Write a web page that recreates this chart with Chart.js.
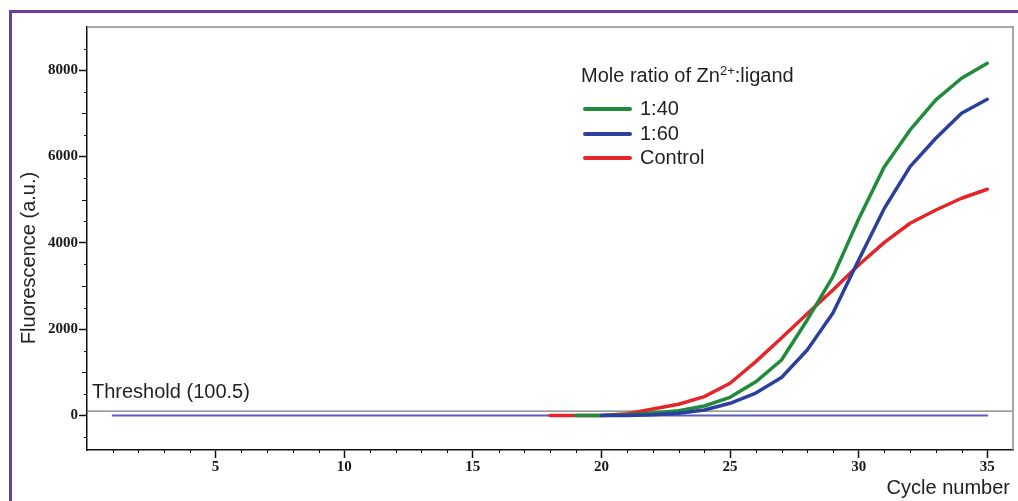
<!DOCTYPE html>
<html>
<head>
<meta charset="utf-8">
<script src="https://cdn.jsdelivr.net/npm/chart.js@4.4.1/dist/chart.umd.min.js"></script>
<style>
  html, body { margin: 0; padding: 0; background: #ffffff; }
  #wrap { position: relative; width: 1018px; height: 501px; overflow: hidden; background: #fff; }
  #c { position: absolute; left: 0; top: 0; }
  .txt { position: absolute; font-family: "Liberation Sans", Arial, sans-serif; font-size: 20px; line-height: 20px; color: #231f20; white-space: nowrap; }
  .frameTop { position: absolute; left: 9px; top: 10px; width: 1009px; height: 3px; background: #6b3fa0; }
  .frameLeft { position: absolute; left: 9px; top: 10px; width: 3px; height: 491px; background: #6b3fa0; }
  .lg { position: absolute; height: 4px; border-radius: 2px; }
  sup { font-size: 13px; line-height: 0; position: relative; top: 0px; vertical-align: 7px; }
</style>
</head>
<body>
<div id="wrap">
  <canvas id="c" width="1018" height="501"></canvas>
  <div class="frameTop"></div>
  <div class="frameLeft"></div>
  <div class="txt" id="ytitle" style="left:28px; top:258px; transform: translate(-50%,-50%) rotate(-90deg);">Fluorescence (a.u.)</div>
  <div class="txt" style="right:8px; top:477px;">Cycle number</div>
  <div class="txt" style="left:92px; top:381px;">Threshold (100.5)</div>
  <div class="txt" style="left:581px; top:65px;">Mole ratio of Zn<sup>2+</sup>:ligand</div>
  <div id="legendItems"></div>
</div>
<script>
// ---- data ----
const cycles = [1,2,3,4,5,6,7,8,9,10,11,12,13,14,15,16,17,18,19,20,21,22,23,24,25,26,27,28,29,30,31,32,33,34,35];

const ratio40 = [null,null,null,null,null,null,null,null,null,null,null,null,null,null,null,null,null,null,
  0,0,15,60,111,220,421,780,1286,2213,3216,4550,5765,6615,7310,7813,8160];

const ratio60 = [null,null,null,null,null,null,null,null,null,null,null,null,null,null,null,null,null,null,null,
  0,0,15,50,127,282,520,880,1518,2375,3603,4800,5765,6423,7002,7326];

const control = [null,null,null,null,null,null,null,null,null,null,null,null,null,null,null,null,null,
  0,0,0,40,150,259,436,746,1247,1796,2359,2908,3487,4010,4453,4761,5033,5241];

const baseline = [0,0,0,0,0,0,0,0,0,0,0,0,0,0,0,0,0,0,0,0,0,0,0,0,0,0,0,0,0,0,0,0,0,0,0];

const thresholdValue = 100.5;

const xTickValues = [5,10,15,20,25,30,35];
const yTickValues = [0,2000,4000,6000,8000];

const seriesNames = ['1:40', '1:60', 'Control'];
const seriesColors = ['#1f8b3b', '#2b3f9e', '#e4262a'];

const X_MIN = 0, X_MAX = 36, Y_MIN = -800, Y_MAX = 9000;

// ---- build datasets ----
const pts = arr => cycles.map((c, i) => ({ x: c, y: arr[i] }));

const datasets = [
  { label: seriesNames[1], data: pts(ratio60), borderColor: seriesColors[1], borderWidth: 3.5 },
  { label: seriesNames[0], data: pts(ratio40), borderColor: seriesColors[0], borderWidth: 3.5 },
  { label: seriesNames[2], data: pts(control), borderColor: seriesColors[2], borderWidth: 3.5 },
  { label: 'Baseline', data: pts(baseline), borderColor: '#5a5cc0', borderWidth: 2 },
  { label: 'Threshold', data: [{ x: X_MIN, y: thresholdValue }, { x: X_MAX, y: thresholdValue }], borderColor: '#7a7a7a', borderWidth: 1.2 }
];

const axisFrame = {
  id: 'axisFrame',
  afterDraw(chart) {
    const { ctx, chartArea: a, scales: { x, y } } = chart;
    ctx.save();
    ctx.strokeStyle = '#8c8c8c';
    ctx.lineWidth = 1.5;
    ctx.beginPath();
    ctx.moveTo(a.left, a.top);
    ctx.lineTo(a.right, a.top);
    ctx.lineTo(a.right, a.bottom);
    ctx.stroke();
    ctx.strokeStyle = '#111';
    ctx.lineWidth = 1;
    ctx.beginPath();
    for (let v = Math.ceil(X_MIN) + 1; v < X_MAX; v++) {
      if (xTickValues.includes(v)) continue;
      const px = Math.round(x.getPixelForValue(v)) + 0.5;
      ctx.moveTo(px, a.bottom);
      ctx.lineTo(px, a.bottom + 3);
    }
    for (let v = -500; v < Y_MAX; v += 500) {
      if (yTickValues.includes(v)) continue;
      const len = (v % 1000 === 0) ? 5 : 3;
      const py = Math.round(y.getPixelForValue(v)) + 0.5;
      ctx.moveTo(a.left - len, py);
      ctx.lineTo(a.left, py);
    }
    ctx.stroke();
    ctx.restore();
  }
};

const tickFont = { family: '"Liberation Serif", "Times New Roman", serif', weight: 'bold', size: 15 };

new Chart(document.getElementById('c'), {
  type: 'line',
  data: { datasets },
  options: {
    responsive: false,
    animation: false,
    layout: { padding: { left: 0, right: 5, top: 27, bottom: 0 } },
    plugins: { legend: { display: false }, tooltip: { enabled: false } },
    elements: {
      point: { radius: 0 },
      line: { tension: 0, borderCapStyle: 'round', borderJoinStyle: 'round', fill: false }
    },
    scales: {
      x: {
        type: 'linear', min: X_MIN, max: X_MAX,
        afterBuildTicks: s => { s.ticks = xTickValues.map(v => ({ value: v })); },
        afterFit: s => { s.height = 51; },
        ticks: { font: tickFont, color: '#1a1a1a', padding: 0, autoSkip: false, maxRotation: 0, callback: v => String(v) },
        grid: { drawOnChartArea: false, drawTicks: true, tickLength: 8, tickColor: '#111', tickWidth: 1.5 },
        border: { color: '#111', width: 1.5 }
      },
      y: {
        type: 'linear', min: Y_MIN, max: Y_MAX,
        afterBuildTicks: s => { s.ticks = yTickValues.map(v => ({ value: v })); },
        afterFit: s => { s.width = 87; },
        ticks: { font: tickFont, color: '#1a1a1a', padding: 1, callback: v => String(v) },
        grid: { drawOnChartArea: false, drawTicks: true, tickLength: 8, tickColor: '#111', tickWidth: 1.5 },
        border: { color: '#111', width: 1.5 }
      }
    }
  },
  plugins: [axisFrame]
});

// ---- legend entries (HTML text) ----
const legendRowTops = [98, 123, 147];
const legendOrder = [0, 1, 2];
const li = document.getElementById('legendItems');
legendOrder.forEach((k, r) => {
  const line = document.createElement('div');
  line.className = 'lg';
  line.style.left = '583px';
  line.style.width = '49px';
  line.style.top = (legendRowTops[r] + 9) + 'px';
  line.style.background = seriesColors[k];
  li.appendChild(line);
  const t = document.createElement('div');
  t.className = 'txt';
  t.style.left = '640px';
  t.style.top = legendRowTops[r] + 'px';
  t.textContent = seriesNames[k];
  li.appendChild(t);
});
</script>
</body>
</html>
